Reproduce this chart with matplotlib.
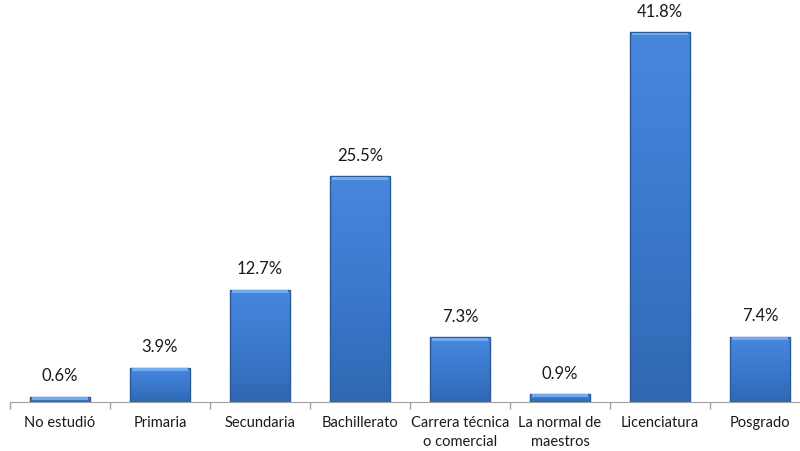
import matplotlib.pyplot as plt
import numpy as np
from matplotlib.colors import LinearSegmentedColormap

categories = ["No estudió", "Primaria", "Secundaria", "Bachillerato",
              "Carrera técnica\no comercial", "La normal de\nmaestros",
              "Licenciatura", "Posgrado"]
values = [0.6, 3.9, 12.7, 25.5, 7.3, 0.9, 41.8, 7.4]
labels = ["0.6%", "3.9%", "12.7%", "25.5%", "7.3%", "0.9%", "41.8%", "7.4%"]

plt.rcParams['font.family'] = ['Lato', 'DejaVu Sans']

fig = plt.figure(figsize=(8, 4.51), dpi=100)
ax = fig.add_axes([10 / 800, 1 - 402 / 451, 800 / 800, 398 / 451])

x = np.arange(len(categories))
bars = ax.bar(x, values, width=0.6, color="none", edgecolor="#2a5a98", linewidth=1.0, zorder=3)

# vertical gradient inside each bar (darker at base, lighter at top)
cmap = LinearSegmentedColormap.from_list("bevel", ["#3068b2", "#3b79cd", "#4787dc"])
grad = np.linspace(0, 1, 256).reshape(-1, 1)
for b in bars:
    x0, w, h = b.get_x(), b.get_width(), b.get_height()
    im = ax.imshow(grad, cmap=cmap, origin="lower", aspect="auto",
                   extent=(x0, x0 + w, 0, h), zorder=2)
    im.set_clip_path(b)
# light rim along the top of each bar
top = np.array(values)
strip = np.minimum(top * 0.5, 0.3)
ax.bar(x, strip, bottom=top - strip - 0.05, width=0.56, color="#72aaf0", linewidth=0, zorder=4)

for xi, v, lab in zip(x, values, labels):
    ax.annotate(lab, (xi, v), xytext=(0, 9), textcoords="offset points",
                ha="center", va="bottom", fontsize=12, color="#1a1a1a")

ax.set_xlim(-0.5, len(categories) - 0.5)
ax.set_ylim(0, 45)
ax.set_xticks(x)
ax.set_xticklabels(categories, fontsize=10.5, color="#1a1a1a", linespacing=1.45)
ax.set_xticks(np.arange(len(categories) + 1) - 0.5, minor=True)
ax.tick_params(axis="x", which="major", length=0, pad=10)
ax.tick_params(axis="x", which="minor", length=5, color="#a0a0a0", width=1)
ax.set_yticks([])
for side in ["top", "right", "left"]:
    ax.spines[side].set_visible(False)
ax.spines["bottom"].set_color("#a0a0a0")

fig.savefig("out.png", dpi=100)
